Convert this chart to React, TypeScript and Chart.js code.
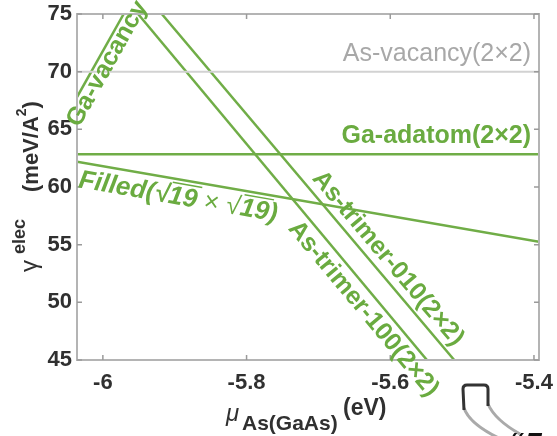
import React, { useEffect, useRef } from "react";
import { Chart, registerables } from "chart.js";

Chart.register(...registerables);

// ---- data ----
const xTickValues = [-6, -5.8, -5.6, -5.4];
const xTickLabels = ["-6", "-5.8", "-5.6", "-5.4"];
const yTickValues = [45, 50, 55, 60, 65, 70, 75];

const asVacancyX = [-6.036, -5.393];
const asVacancyY = [70, 70];
const gaAdatomX = [-6.036, -5.393];
const gaAdatomY = [62.85, 62.85];
const filledX = [-6.036, -5.393];
const filledY = [62.2, 55.25];
const gaVacancyX = [-6.036, -5.971];
const gaVacancyY = [67.8, 75];
const asTrimer100X = [-5.951, -5.549];
const asTrimer100Y = [75, 45];
const asTrimer010X = [-5.918, -5.511];
const asTrimer010Y = [75, 45];

const GREEN = "#70ad47";
const GREEN_TEXT = "#6aab40";
const GRAY_LINE = "#d2d2d2";
const GRAY_TEXT = "#a8a8a8";
const FRAME = "#b4b4b4";
const DARK = "#303030";
const FAMILY = "'Liberation Sans', Arial, Helvetica, sans-serif";

const series = [
  { name: "asVacancy", xs: asVacancyX, ys: asVacancyY, color: GRAY_LINE, width: 2 },
  { name: "gaAdatom", xs: gaAdatomX, ys: gaAdatomY, color: GREEN, width: 2.5 },
  { name: "filled", xs: filledX, ys: filledY, color: GREEN, width: 2.5 },
  { name: "gaVacancy", xs: gaVacancyX, ys: gaVacancyY, color: GREEN, width: 2.5 },
  { name: "asTrimer100", xs: asTrimer100X, ys: asTrimer100Y, color: GREEN, width: 2.5 },
  { name: "asTrimer010", xs: asTrimer010X, ys: asTrimer010Y, color: GREEN, width: 2.5 },
];

// labels along sloped lines: anchor x (data) and perpendicular baseline distance
const slopedLabels = [
  { idx: 3, text: "Ga-vacancy", at: -6.054, dist: 17, font: `bold 25px ${FAMILY}` },
  { idx: 4, text: "As-trimer-100(2\u00d72)", at: -5.7186, dist: 23, font: `bold 25px ${FAMILY}` },
  { idx: 5, text: "As-trimer-010(2\u00d72)", at: -5.718, dist: -8, font: `bold 25px ${FAMILY}` },
];

function lineY(s: { xs: number[]; ys: number[] }, x: number) {
  const [x0, x1] = s.xs;
  const [y0, y1] = s.ys;
  return y0 + ((x - x0) * (y1 - y0)) / (x1 - x0);
}

const annotPlugin = {
  id: "annot",
  afterDatasetsDraw(chart: any) {
    const ctx: CanvasRenderingContext2D = chart.ctx;
    const xs = chart.scales.x;
    const ys = chart.scales.y;
    const { left, right, top, bottom } = chart.chartArea;

    ctx.save();
    // frame
    ctx.strokeStyle = FRAME;
    ctx.lineWidth = 2;
    ctx.strokeRect(left, top, right - left, bottom - top);
    // inward ticks
    ctx.lineWidth = 1.5;
    ctx.strokeStyle = "#9a9a9a";
    ctx.beginPath();
    for (const v of xTickValues) {
      const p = xs.getPixelForValue(v);
      ctx.moveTo(p, bottom);
      ctx.lineTo(p, bottom - 5);
      ctx.moveTo(p, top);
      ctx.lineTo(p, top + 5);
    }
    for (const v of yTickValues) {
      const p = ys.getPixelForValue(v);
      ctx.moveTo(left, p);
      ctx.lineTo(left + 5, p);
      ctx.moveTo(right, p);
      ctx.lineTo(right - 5, p);
    }
    ctx.stroke();

    // horizontal labels
    ctx.textBaseline = "alphabetic";
    ctx.textAlign = "right";
    ctx.fillStyle = GRAY_TEXT;
    ctx.font = `25px ${FAMILY}`;
    ctx.fillText("As-vacancy(2\u00d72)", xs.getPixelForValue(-5.404), ys.getPixelForValue(70.92));
    ctx.fillStyle = GREEN_TEXT;
    ctx.font = `bold 25px ${FAMILY}`;
    ctx.fillText("Ga-adatom(2\u00d72)", xs.getPixelForValue(-5.404), ys.getPixelForValue(63.81));

    // sloped labels
    ctx.textAlign = "left";
    const placeRotated = (idx: number, at: number, dist: number) => {
      const s = series[idx];
      const px0 = xs.getPixelForValue(s.xs[0]);
      const py0 = ys.getPixelForValue(s.ys[0]);
      const px1 = xs.getPixelForValue(s.xs[1]);
      const py1 = ys.getPixelForValue(s.ys[1]);
      const th = Math.atan2(py1 - py0, px1 - px0);
      const ax = xs.getPixelForValue(at);
      const ay = ys.getPixelForValue(lineY(s, at));
      const dx = -Math.sin(th);
      const dy = Math.cos(th);
      ctx.translate(ax + dist * dx, ay + dist * dy);
      ctx.rotate(th);
    };
    for (const l of slopedLabels) {
      ctx.save();
      placeRotated(l.idx, l.at, l.dist);
      ctx.font = l.font;
      ctx.fillStyle = GREEN_TEXT;
      ctx.fillText(l.text, 0, 0);
      ctx.restore();
    }
    // Filled label with radicals
    ctx.save();
    placeRotated(2, -6.029, 25);
    ctx.fillStyle = GREEN_TEXT;
    ctx.strokeStyle = GREEN_TEXT;
    ctx.lineWidth = 1.5;
    const parts = ["Filled(\u221a", "19", " \u00d7 \u221a", "19", ")"];
    let cx = 0;
    parts.forEach((p, i) => {
      ctx.font = i === 2 ? `26px ${FAMILY}` : `bold italic 26px ${FAMILY}`;
      ctx.fillText(p, cx, 0);
      const w = ctx.measureText(p).width;
      if (p === "19") {
        ctx.beginPath();
        ctx.moveTo(cx + 2, -21);
        ctx.lineTo(cx + w + 3, -21);
        ctx.stroke();
      }
      cx += w;
    });
    ctx.restore();

    ctx.restore();
  },
  afterDraw(chart: any) {
    const ctx: CanvasRenderingContext2D = chart.ctx;
    ctx.save();
    ctx.fillStyle = DARK;
    ctx.textAlign = "left";
    ctx.textBaseline = "alphabetic";
    // x axis title
    ctx.font = `italic 24px ${FAMILY}`;
    ctx.fillText("\u03bc", 226, 421);
    ctx.font = `bold 21px ${FAMILY}`;
    ctx.fillText("As(GaAs)", 242, 430);
    ctx.font = `bold 23px ${FAMILY}`;
    ctx.fillText("(eV)", 343, 415);

    // y axis title (rotated)
    ctx.save();
    ctx.translate(38, 272);
    ctx.rotate(-Math.PI / 2);
    ctx.font = `24px ${FAMILY}`;
    ctx.fillText("\u03b3", 0, -1);
    ctx.font = `bold 18px ${FAMILY}`;
    ctx.fillText("elec", 18, -13);
    ctx.font = `bold 22px ${FAMILY}`;
    let lx = 80;
    ctx.fillText("(meV/A", lx, 0);
    lx += ctx.measureText("(meV/A").width;
    ctx.font = `bold 14px ${FAMILY}`;
    ctx.fillText("2", lx, -12);
    lx += ctx.measureText("2").width;
    ctx.font = `bold 22px ${FAMILY}`;
    ctx.fillText(")", lx, 0);
    ctx.restore();

    // decoration from neighbouring figure (bottom-right)
    ctx.lineWidth = 3;
    ctx.strokeStyle = "#aaaaaa";
    ctx.beginPath();
    ctx.moveTo(464, 408);
    ctx.quadraticCurveTo(470, 425, 503, 440);
    ctx.moveTo(488, 404);
    ctx.quadraticCurveTo(495, 420, 520, 434);
    ctx.stroke();
    ctx.strokeStyle = "#333333";
    ctx.beginPath();
    ctx.moveTo(464, 410);
    ctx.lineTo(463, 389);
    ctx.quadraticCurveTo(463, 385, 467, 385);
    ctx.lineTo(484, 385);
    ctx.quadraticCurveTo(488, 385, 488, 389);
    ctx.lineTo(488, 406);
    ctx.stroke();
    ctx.fillStyle = "#111111";
    ctx.font = `bold italic 32px ${FAMILY}`;
    ctx.fillText("\u201c5", 508, 455);
    ctx.restore();
  },
};

export default function App() {
  const ref = useRef<HTMLCanvasElement | null>(null);
  useEffect(() => {
    if (!ref.current) return;
    const chart = new Chart(ref.current, {
      type: "line",
      data: {
        datasets: series.map((s) => ({
          label: s.name,
          data: s.xs.map((x, i) => ({ x, y: s.ys[i] })),
          borderColor: s.color,
          borderWidth: s.width,
          pointRadius: 0,
          fill: false,
          tension: 0,
          clip: 0,
        })),
      },
      options: {
        animation: false,
        responsive: false,
        maintainAspectRatio: false,
        events: [],
        layout: { padding: { top: 14, right: 18, left: 0, bottom: 0 } },
        plugins: { legend: { display: false }, tooltip: { enabled: false }, title: { display: false } },
        scales: {
          x: {
            type: "linear",
            min: -6.036,
            max: -5.393,
            grid: { display: false, drawTicks: false },
            border: { display: false },
            afterBuildTicks: (scale: any) => {
              scale.ticks = xTickValues.map((v) => ({ value: v }));
            },
            afterFit: (scale: any) => {
              scale.height = 76;
              scale.paddingLeft = 0;
              scale.paddingRight = 0;
            },
            ticks: {
              autoSkip: false,
              maxRotation: 0,
              padding: 10,
              color: DARK,
              font: { family: FAMILY, size: 22, weight: "bold" },
              callback: (_v: any, i: number) => xTickLabels[i],
            },
          },
          y: {
            type: "linear",
            min: 45,
            max: 75,
            grid: { display: false, drawTicks: false },
            border: { display: false },
            afterBuildTicks: (scale: any) => {
              scale.ticks = yTickValues.map((v) => ({ value: v }));
            },
            afterFit: (scale: any) => {
              scale.width = 77;
              scale.paddingTop = 0;
              scale.paddingBottom = 0;
            },
            ticks: {
              autoSkip: false,
              padding: 5,
              color: DARK,
              font: { family: FAMILY, size: 22, weight: "bold" },
              callback: (v: any) => String(v),
            },
          },
        },
      },
      plugins: [annotPlugin],
    } as any);
    return () => chart.destroy();
  }, []);
  return (
    <div style={{ position: "absolute", left: 0, top: 0, width: 557, height: 436, background: "#fff" }}>
      <canvas ref={ref} width={557} height={436} style={{ display: "block", width: 557, height: 436 }} />
    </div>
  );
}
